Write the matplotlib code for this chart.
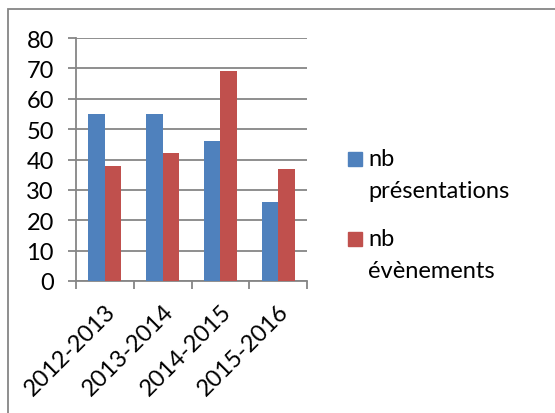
import matplotlib
matplotlib.use("Agg")
import matplotlib.pyplot as plt
from matplotlib.patches import Rectangle
import numpy as np

# data
seasons = ["2012-2013", "2013-2014", "2014-2015", "2015-2016"]
presentations = [55, 55, 46, 26]
evenements = [38, 42, 69, 37]
series_labels = [("nb", "présentations"), ("nb", "évènements")]
series_colors = ["#4F81BD", "#C0504D"]

plt.rcParams["font.family"] = ["Lato", "DejaVu Sans"]
fs = 17

fig = plt.figure(figsize=(5.55, 4.14), dpi=100)
ax = fig.add_axes([76 / 555, 1 - 282 / 414, (307 - 76) / 555, (282 - 39) / 414])

grid_color = "#868686"
x = np.arange(len(seasons))
width = 1 / 3.5
ax.bar(x - width / 2, presentations, width, color=series_colors[0], zorder=3)
ax.bar(x + width / 2, evenements, width, color=series_colors[1], zorder=3)

ax.set_xlim(-0.5, len(seasons) - 0.5)
ax.set_ylim(0, 80)
ax.set_yticks(range(0, 81, 10))
ax.yaxis.grid(True, color=grid_color, linewidth=1.3, zorder=0)
ax.set_axisbelow(True)

ax.set_xticks(x)
ax.set_xticklabels(seasons, rotation=45, ha="right", rotation_mode="anchor")
ax.set_xticks(np.arange(-0.5, len(seasons)), minor=True)
ax.tick_params(axis="x", which="major", length=0, pad=14, labelsize=fs)
ax.tick_params(axis="x", which="minor", length=6, width=1.3, color=grid_color)
ax.tick_params(axis="y", length=6, width=1.3, color=grid_color, labelsize=fs, pad=10)

for side in ["top", "right"]:
    ax.spines[side].set_visible(False)
for side in ["left", "bottom"]:
    ax.spines[side].set_color(grid_color)
    ax.spines[side].set_linewidth(1.3)

# legend drawn by hand: square aligned with the first line of each label
W, H = 555, 414
for i, ((first, second), color) in enumerate(zip(series_labels, series_colors)):
    y0 = 160 + i * 80
    fig.patches.append(Rectangle((348 / W, 1 - (y0 + 7) / H), 14 / W, 14 / H,
                                 transform=fig.transFigure, color=color))
    fig.text(368 / W, 1 - y0 / H, first, fontsize=fs, va="center", ha="left")
    fig.text(368 / W, 1 - (y0 + 32) / H, second, fontsize=fs, va="center", ha="left")

# outer chart frame
fig.patches.append(Rectangle((8 / W, -0.1), 1.1, 1 - 10 / H + 0.1, transform=fig.transFigure,
                             fill=False, edgecolor="#868686", linewidth=1.3))

fig.savefig("out.png", dpi=100)
